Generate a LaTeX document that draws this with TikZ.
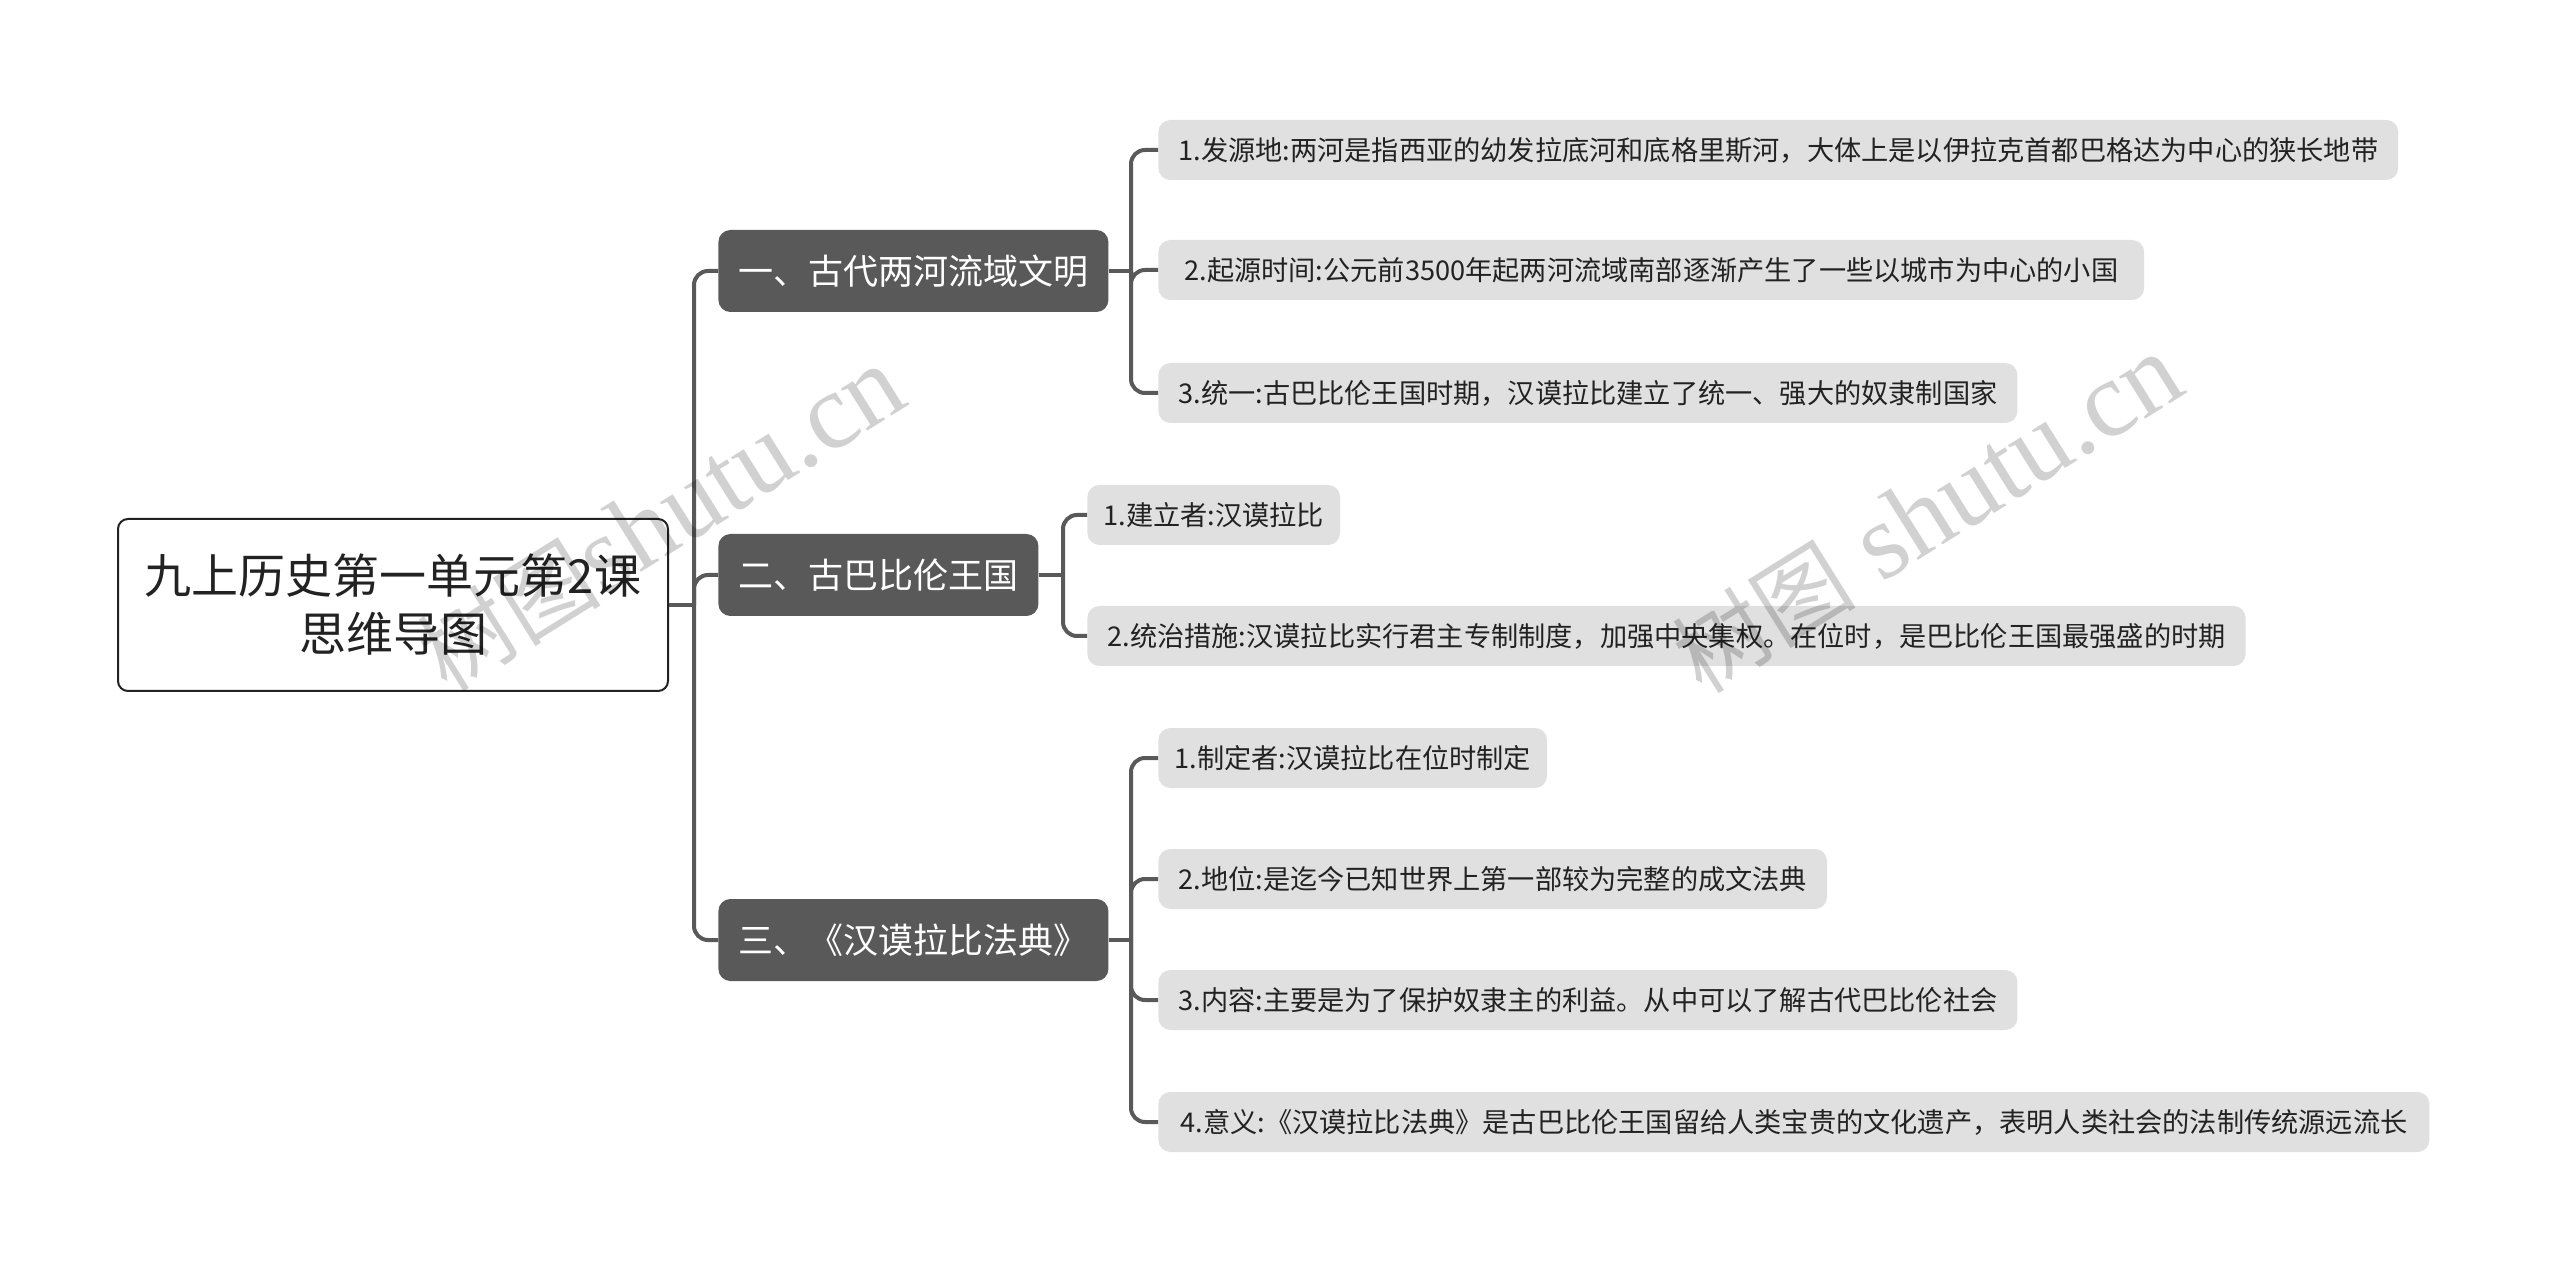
\documentclass[tikz,border=0pt]{standalone}
\usepackage{fontspec}
\setmainfont{Noto Sans CJK SC}
\newfontfamily\wmfont{Liberation Serif}
\newfontfamily\wmcjk{Noto Sans CJK SC}
\usetikzlibrary{positioning}
\definecolor{mapdark}{RGB}{89, 89, 89}
\definecolor{mapleaf}{RGB}{224, 224, 224}
\definecolor{maptext}{RGB}{34, 34, 34}

\begin{document}
\begin{tikzpicture}[
  x=0.5pt, y=-0.5pt,
  rootbox/.style={draw=maptext, line width=1pt, fill=white, rounded corners=5pt, minimum width=275pt, minimum height=86pt, align=center, text=maptext, font=\fontsize{23.5}{29}\selectfont},
  topicbox/.style={fill=mapdark, rounded corners=6pt, anchor=west, minimum height=41pt, inner xsep=10pt, text=white, font=\fontsize{17.5}{21}\selectfont},
  leafbox/.style={fill=mapleaf, rounded corners=6pt, anchor=west, minimum height=30pt, inner xsep=10pt, text=maptext, font=\fontsize{13.6}{16}\selectfont},
  link/.style={draw=mapdark, line width=2pt, rounded corners=7pt},
  wmark/.style={text=black, text opacity=0.18, font=\wmfont\fontsize{54}{58}\selectfont, rotate=32}
]
  \useasboundingbox (0,0) rectangle (2560,1272);

  % root
  \node[rootbox] (root) at (393, 605) {九上历史第一单元第2课\\思维导图};

  % topics
  \node[topicbox] (t1) at (718, 271) {一、古代两河流域文明};
  \node[topicbox] (t2) at (718, 575) {二、古巴比伦王国};
  \node[topicbox] (t3) at (718, 940) {三、《汉谟拉比法典》};

  % leaves of topic 1
  \node[leafbox] (l11) at (1158, 150) {1.发源地:两河是指西亚的幼发拉底河和底格里斯河，大体上是以伊拉克首都巴格达为中心的狭长地带};
  \node[leafbox, inner xsep=13pt] (l12) at (1158, 270) {2.起源时间:公元前3500年起两河流域南部逐渐产生了一些以城市为中心的小国};
  \node[leafbox] (l13) at (1158, 393) {3.统一:古巴比伦王国时期，汉谟拉比建立了统一、强大的奴隶制国家};

  % leaves of topic 2
  \node[leafbox, inner xsep=8pt] (l21) at (1087, 515) {1.建立者:汉谟拉比};
  \node[leafbox] (l22) at (1087, 636) {2.统治措施:汉谟拉比实行君主专制制度，加强中央集权。在位时，是巴比伦王国最强盛的时期};

  % leaves of topic 3
  \node[leafbox, inner xsep=8pt] (l31) at (1158, 758) {1.制定者:汉谟拉比在位时制定};
  \node[leafbox] (l32) at (1158, 879) {2.地位:是迄今已知世界上第一部较为完整的成文法典};
  \node[leafbox] (l33) at (1158, 1000) {3.内容:主要是为了保护奴隶主的利益。从中可以了解古代巴比伦社会};
  \node[leafbox, inner xsep=11pt] (l34) at (1158, 1122) {4.意义:《汉谟拉比法典》是古巴比伦王国留给人类宝贵的文化遗产，表明人类社会的法制传统源远流长};

  % junctions
  \coordinate (j0) at (694, 605);
  \coordinate (j1) at (1131, 271);
  \coordinate (j2) at (1063, 575);
  \coordinate (j3) at (1131, 940);

  % connectors
  \draw[link] (root.east) -- (j0);
  \foreach \t in {t1, t2, t3} {
    \draw[link] (j0) |- (\t.west);
  }
  \draw[link] (t1.east) -- (j1);
  \foreach \l in {l11, l12, l13} {
    \draw[link] (j1) |- (\l.west);
  }
  \draw[link] (t2.east) -- (j2);
  \foreach \l in {l21, l22} {
    \draw[link] (j2) |- (\l.west);
  }
  \draw[link] (t3.east) -- (j3);
  \foreach \l in {l31, l32, l33, l34} {
    \draw[link] (j3) |- (\l.west);
  }

  % watermarks
  \node[wmark] (wm1) at (661, 519) {{\wmcjk\fontsize{46}{50}\selectfont 树图}shutu.cn};
  \node[wmark] (wm2) at (1927, 514) {{\wmcjk\fontsize{46}{50}\selectfont 树图} shutu.cn};
\end{tikzpicture}
\end{document}
